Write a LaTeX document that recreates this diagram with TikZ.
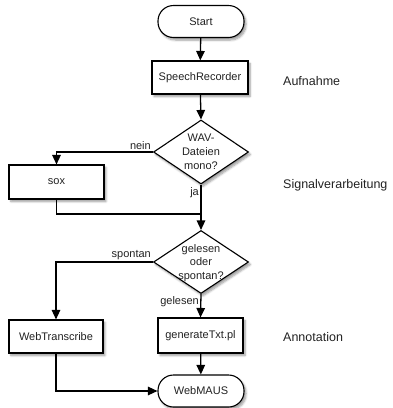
\documentclass[tikz,border=0pt]{standalone}
\usepackage{fontspec}
\setmainfont{Liberation Sans}
\usetikzlibrary{shapes.geometric,arrows.meta,shadows.blur}
\definecolor{txt}{HTML}{222222}
\tikzset{
  shad/.style={blur shadow={shadow xshift=2pt,shadow yshift=-2.5pt,shadow blur steps=6,shadow opacity=40}},
  procbox/.style={draw,line width=1.1pt,fill=white,rectangle,inner sep=0pt,shad,
    font=\fontsize{11}{13}\selectfont,text=txt},
  pill/.style={procbox,rounded corners=15.5pt},
  decision/.style={draw,line width=1.1pt,fill=white,diamond,inner sep=0pt,shad},
  dtext/.style={align=center,inner sep=0pt,font=\fontsize{11}{14}\selectfont,text=txt},
  phase/.style={anchor=west,inner sep=0pt,font=\fontsize{12.5}{14}\selectfont,text=txt},
  lbl/.style={inner sep=1.5pt,font=\fontsize{11}{13}\selectfont,text=txt},
  conn/.style={line width=1.3pt,-{Triangle[width=8.5pt,length=9.5pt]}},
  plain/.style={line width=1.3pt}
}
\begin{document}
\begin{tikzpicture}[x=1pt,y=-1pt]
\useasboundingbox (0,0) rectangle (392,408);
\node[pill,minimum width=86pt,minimum height=32pt] (start) at (201,21.5) {Start};
\node[procbox,minimum width=96pt,minimum height=33pt] (sr) at (200,77.5) {SpeechRecorder};
\node[decision,minimum width=95pt,minimum height=64pt] (d1) at (201,152) {};
\node[dtext] (d1t) at (201,152) {WAV-\\Dateien\\mono?};
\node[procbox,minimum width=95pt,minimum height=34pt] (sox) at (56.5,182) {sox};
\coordinate (m) at (201,214);
\node[decision,minimum width=95pt,minimum height=63pt] (d2) at (201,262) {};
\node[dtext,font=\fontsize{11}{13.5}\selectfont] (d2t) at (201,263) {gelesen\\oder\\spontan?};
\node[procbox,minimum width=94pt,minimum height=33pt] (wt) at (56,336.5) {WebTranscribe};
\node[procbox,minimum width=85pt,minimum height=35pt] (gt) at (200.5,335.5) {generateTxt.pl};
\node[pill,minimum width=86pt,minimum height=32pt] (wm) at (201,391) {WebMAUS};

\node[phase] (p1) at (283,81) {Aufnahme};
\node[phase] (p2) at (283,185.5) {Signalverarbeitung};
\node[phase] (p3) at (283,337) {Annotation};

\draw[conn] (start) -- (sr);
\draw[conn] (sr) -- (d1.north);
\draw[conn] (d1.west) -| node[lbl,pos=0,anchor=south east] (nein) {nein} (sox.north);
\draw[conn] (d1.south) -- node[lbl,pos=0,anchor=north east,yshift=-1pt] (ja) {ja} (d2.north);
\draw[plain] (sox.south) |- (m);
\draw[conn] (d2.west) -| node[lbl,pos=0,anchor=south east] (sp) {spontan} (wt.north);
\draw[conn] (d2.south) -- node[lbl,pos=0,anchor=north east] (gl) {gelesen} (gt.north);
\draw[conn] (gt) -- (wm);
\draw[conn] (wt.south) |- (wm.west);
\end{tikzpicture}
\end{document}
